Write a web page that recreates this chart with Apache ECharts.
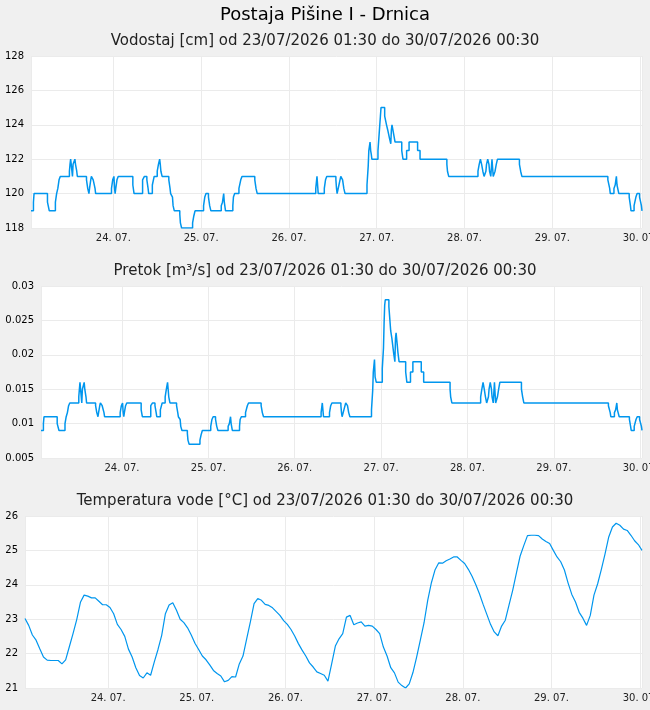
<!DOCTYPE html>
<html>
<head>
<meta charset="utf-8">
<script src="https://cdn.jsdelivr.net/npm/echarts@6/dist/echarts.min.js"></script>
<style>
  html, body { margin: 0; background: #f0f0f0; }
  #chart { width: 650px; height: 710px; }
</style>
</head>
<body>
<div id="chart"></div>
<script>
// change points (day hh:mm, July 2026) shared by level and flow
const stepTimes = [
  '23 01:30','23 02:10','23 02:20','23 06:00','23 06:30','23 08:10','23 08:30','23 08:50','23 09:10','23 09:30',
  '23 12:00','23 12:10','23 12:20','23 12:30','23 12:50','23 13:00','23 13:30','23 13:40','23 14:00','23 14:10',
  '23 16:40','23 17:00','23 17:20','23 17:30','23 17:50','23 18:00','23 18:30','23 19:00','23 19:10','23 23:30',
  '23 23:50','24 00:10','24 00:20','24 00:30','24 00:40','24 01:00','24 01:20','24 05:20','24 05:40','24 08:00',
  '24 08:30','24 09:10','24 09:30','24 09:40','24 10:40','24 11:10','24 12:00','24 12:20','24 12:40','24 12:50',
  '24 13:00','24 13:20','24 15:10','24 15:30','24 15:40','24 16:10','24 16:20','24 16:40','24 18:10','24 18:20',
  '24 18:40','24 21:40','24 22:00','24 22:20','25 00:40','25 01:00','25 01:20','25 02:00','25 02:20','25 02:40',
  '25 05:30','25 05:50','25 06:10','25 06:20','25 06:40','25 08:40','25 08:50','25 09:10','25 10:20','25 10:50',
  '25 11:10','25 14:40','25 15:00','25 15:20','26 07:20','26 07:40','26 07:50','26 08:00','26 09:40','26 10:00',
  '26 10:20','26 12:50','26 13:00','26 13:10','26 13:40','26 14:10','26 14:40','26 15:00','26 15:20','26 21:20',
  '26 21:40','26 21:50','26 22:10','26 22:20','26 22:30','26 22:40','27 00:20','27 00:40','27 00:50','27 01:00',
  '27 01:10','27 02:10','27 02:40','27 03:00','27 03:30','27 03:50','27 04:00','27 04:10','27 04:30','27 04:40',
  '27 05:00','27 06:50','27 07:10','27 08:10','27 08:50','27 11:10','27 11:50','27 19:10','27 19:20','27 19:40',
  '28 03:40','28 04:00','28 04:20','28 04:40','28 05:00','28 05:20','28 05:50','28 06:00','28 06:20','28 06:40',
  '28 06:50','28 07:10','28 07:20','28 07:30','28 07:50','28 08:20','28 08:40','28 09:00','28 15:00','28 15:20',
  '28 15:40','29 15:10','29 15:40','29 15:50','29 16:50','29 17:10','29 17:30','29 17:40','29 18:10','29 21:00',
  '29 21:20','29 21:30','29 22:20','29 22:50','29 23:10','29 23:50','30 00:20','30 00:30'
];

const levelValues = [
  119,119.5,120,119.5,119,119.5,120,120.3,120.8,121,
  121.3,121.7,122,121.7,121,121.7,122,121.7,121.3,121,
  120.8,120.3,120,120.3,120.8,121,120.8,120.3,120,120.3,
  120.8,121,120.3,120,120.3,120.8,121,120.5,120,120.8,
  121,120.8,120.3,120,120.5,121,121.3,121.7,122,121.7,
  121.3,121,120.8,120.3,120,119.8,119.3,119,118.8,118.3,
  118,118.3,118.7,119,119.3,119.8,120,119.8,119.3,119,
  119.3,119.5,120,119.5,119,119.3,119.8,120,120.3,120.8,
  121,120.8,120.3,120,120.3,121,120.5,120,120.3,120.8,
  121,120.8,120.3,120,120.5,121,120.8,120.3,120,120.5,
  121.6,122.5,123,122.5,122.3,122,122.5,123.5,124,124.5,
  125,124.5,124,123.7,123.2,122.9,123.7,124,123.6,123.4,
  123,122.5,122,122.5,123,122.5,122,121.7,121.3,121,
  121.3,121.7,122,121.7,121.3,121,121.3,121.7,122,121.7,
  121.3,121,121.5,122,121,121.3,121.7,122,121.7,121.3,
  121,120.8,120.3,120,120.3,120.5,121,120.5,120,119.8,
  119.3,119,119.3,119.8,120,119.8,119.3,119
];

const flowValues = [
  0.009,0.010,0.011,0.010,0.009,0.010,0.011,0.0116,0.0126,0.013,
  0.0139,0.015,0.016,0.015,0.013,0.015,0.016,0.015,0.0139,0.013,
  0.0126,0.0116,0.011,0.0116,0.0126,0.013,0.0126,0.0116,0.011,0.0116,
  0.0126,0.013,0.0116,0.011,0.0116,0.0126,0.013,0.012,0.011,0.0126,
  0.013,0.0126,0.0116,0.011,0.012,0.013,0.0139,0.015,0.016,0.015,
  0.0139,0.013,0.0126,0.0116,0.011,0.0106,0.0096,0.009,0.0086,0.0076,
  0.007,0.0076,0.0084,0.009,0.0096,0.0106,0.011,0.0106,0.0096,0.009,
  0.0096,0.010,0.011,0.010,0.009,0.0096,0.0106,0.011,0.0116,0.0126,
  0.013,0.0126,0.0116,0.011,0.0116,0.013,0.012,0.011,0.0116,0.0126,
  0.013,0.0126,0.0116,0.011,0.012,0.013,0.0126,0.0116,0.011,0.012,
  0.0148,0.0175,0.0193,0.0168,0.0168,0.016,0.018,0.021,0.0246,0.0272,
  0.028,0.027,0.0235,0.0224,0.0202,0.019,0.0224,0.0232,0.0214,0.0204,
  0.019,0.0175,0.016,0.0175,0.019,0.0175,0.016,0.015,0.0139,0.013,
  0.0139,0.015,0.016,0.015,0.0139,0.013,0.0139,0.015,0.016,0.015,
  0.0139,0.013,0.0145,0.016,0.013,0.0139,0.015,0.016,0.015,0.0139,
  0.013,0.0126,0.0116,0.011,0.0116,0.012,0.013,0.012,0.011,0.0106,
  0.0096,0.009,0.0096,0.0106,0.011,0.0106,0.0096,0.009
];

// hourly water temperature from 23/07 01:30
const tempStart = '23 01:30';
const tempValues = [
  23.02,22.82,22.54,22.39,22.14,21.9,21.81,21.8,21.8,21.8,
  21.7,21.82,22.2,22.58,22.99,23.49,23.7,23.67,23.62,23.62,
  23.52,23.42,23.42,23.34,23.16,22.85,22.7,22.5,22.13,21.9,
  21.59,21.36,21.29,21.44,21.37,21.76,22.12,22.53,23.16,23.41,
  23.48,23.26,23.0,22.9,22.75,22.54,22.3,22.12,21.93,21.82,
  21.67,21.51,21.42,21.35,21.18,21.22,21.33,21.32,21.7,21.93,
  22.43,22.92,23.45,23.6,23.55,23.43,23.4,23.33,23.22,23.11,
  22.96,22.85,22.7,22.51,22.29,22.1,21.93,21.73,21.61,21.47,
  21.42,21.37,21.2,21.7,22.22,22.43,22.58,23.06,23.11,22.84,
  22.89,22.92,22.8,22.82,22.8,22.7,22.58,22.19,21.93,21.59,
  21.44,21.17,21.07,21.0,21.12,21.45,21.9,22.39,22.89,23.55,
  24.06,24.44,24.64,24.63,24.7,24.75,24.81,24.81,24.71,24.62,
  24.45,24.25,24.01,23.74,23.43,23.14,22.85,22.63,22.52,22.8,
  22.97,23.41,23.84,24.34,24.83,25.14,25.43,25.44,25.44,25.43,
  25.33,25.26,25.2,25.0,24.81,24.67,24.43,24.05,23.72,23.5,
  23.2,23.03,22.82,23.11,23.7,24.03,24.45,24.9,25.39,25.68,
  25.79,25.73,25.62,25.58,25.44,25.28,25.17,25.0
];

const titles = [
  'Vodostaj [cm] od 23/07/2026 01:30 do 30/07/2026 00:30',
  'Pretok [m³/s] od 23/07/2026 01:30 do 30/07/2026 00:30',
  'Temperatura vode [°C] od 23/07/2026 01:30 do 30/07/2026 00:30'
];

const HOUR = 3600 * 1000;
const DAY = 24 * HOUR;
const FONT = 'DejaVu Sans';

function t(s) {
  const [d, hm] = s.split(' ');
  const [h, m] = hm.split(':');
  return new Date(2026, 6, +d, +h, +m).getTime();
}

function dayLabel(v) {
  const d = new Date(v);
  const p = (n) => (n < 10 ? '0' : '') + n;
  return p(d.getDate()) + '. ' + p(d.getMonth() + 1) + '.';
}

const levelData = stepTimes.map((s, i) => [t(s), levelValues[i]]);
const flowData = stepTimes.map((s, i) => [t(s), flowValues[i]]);
const tempData = tempValues.map((v, i) => [t(tempStart) + i * HOUR, v]);

const grids = [
  { left: 31, right: 8, top: 56, height: 172 },
  { left: 41, right: 8, top: 286, height: 172 },
  { left: 25, right: 8, top: 516, height: 172 }
];
const yRanges = [
  { min: 118, max: 128, interval: 2 },
  { min: 0.005, max: 0.03, interval: 0.005 },
  { min: 21, max: 26, interval: 1 }
];

const option = {
  backgroundColor: '#f0f0f0',
  animation: false,
  title: [
    {
      text: 'Postaja Pišine I - Drnica', left: 'center', top: 1,
      textStyle: { fontFamily: FONT, fontSize: 18, fontWeight: 'normal', color: '#000' }
    }
  ].concat(titles.map((txt, i) => ({
    text: txt, left: 'center', top: 29 + i * 230,
    textStyle: { fontFamily: FONT, fontSize: 15, fontWeight: 'normal', color: '#222' }
  }))),
  grid: grids.map((g) => Object.assign({
    show: true, backgroundColor: '#fff', borderWidth: 0,
    containLabel: false, outerBoundsMode: 'none'
  }, g)),
  xAxis: grids.map((g, i) => ({
    type: 'time',
    gridIndex: i,
    min: t('23 01:30'),
    max: t('30 00:30'),
    minInterval: DAY,
    maxInterval: DAY,
    axisLine: { show: false },
    axisTick: { show: false },
    splitLine: { show: true, lineStyle: { color: '#ebebeb' } },
    axisLabel: {
      formatter: dayLabel, color: '#222', fontSize: 10, fontFamily: FONT,
      margin: 5, showMinLabel: false
    }
  })),
  yAxis: yRanges.map((r, i) => ({
    type: 'value',
    gridIndex: i,
    min: r.min,
    max: r.max,
    interval: r.interval,
    axisLine: { show: false },
    axisTick: { show: false },
    splitLine: { lineStyle: { color: '#ebebeb' } },
    axisLabel: { color: '#000', fontSize: 10, fontFamily: FONT, margin: 7 }
  })),
  series: [
    {
      type: 'line', xAxisIndex: 0, yAxisIndex: 0, step: 'end', data: levelData,
      showSymbol: false, lineStyle: { color: '#0096ee', width: 1.5 }
    },
    {
      type: 'line', xAxisIndex: 1, yAxisIndex: 1, step: 'end', data: flowData,
      showSymbol: false, lineStyle: { color: '#0096ee', width: 1.5 }
    },
    {
      type: 'line', xAxisIndex: 2, yAxisIndex: 2, data: tempData,
      showSymbol: false, lineStyle: { color: '#0096ee', width: 1.2 }
    }
  ]
};

const chart = echarts.init(document.getElementById('chart'));
chart.setOption(option);
</script>
</body>
</html>
